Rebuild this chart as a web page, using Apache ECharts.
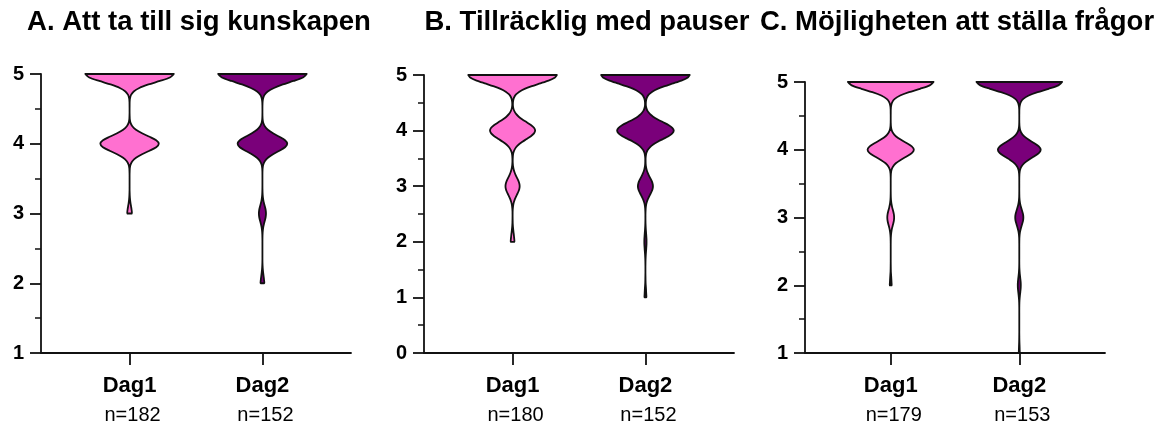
<!DOCTYPE html>
<html>
<head>
<meta charset="utf-8">
<script src="https://cdn.jsdelivr.net/npm/echarts@6/dist/echarts.min.js"></script>
<style>html,body{margin:0;padding:0;background:#fff}#c{width:1163px;height:427px}</style>
</head>
<body>
<div id="c"></div>
<script>
// ---------------- data ----------------
const titles = ['A. Att ta till sig kunskapen', 'B. Tillräcklig med pauser', 'C. Möjligheten att ställa frågor'];
const categories = ['Dag1', 'Dag2'];
const nA = [182, 152];
const nB = [180, 152];
const nC = [179, 153];
const yRangeA = [1, 5];
const yRangeB = [0, 5];
const yRangeC = [1, 5];
// density step along the y (score) axis
const Y_STEP = 0.05;
// lowest observed score per violin (density arrays start here and go up to 5)
const startA = [3, 2];
const startB = [2, 1];
const startC = [2, 1];
// relative violin half-widths (1 = widest), from start score to 5 in steps of 0.05
const densA1 = [.05,.046,.034,.021,.011,.005,.002,0,0,0,
  0,0,.002,.006,.022,.062,.145,.282,.452,.601,
  .66,.601,.452,.282,.145,.062,.022,.006,.002,0,
  0,.001,.002,.01,.033,.094,.22,.427,.685,.91,1];
const densA2 = [.04,.036,.027,.017,.009,.004,.001,0,0,0,
  0,0,0,.001,.003,.008,.018,.034,.055,.073,
  .08,.073,.055,.034,.018,.008,.003,.001,0,0,
  0,0,.001,.005,.018,.053,.123,.239,.384,.51,
  .56,.51,.384,.239,.123,.053,.018,.005,.001,0,
  0,.001,.004,.015,.045,.12,.26,.46,.7,.915,1];
const densB1 = [.04,.038,.032,.025,.017,.011,.006,.003,.002,.001,
  .001,.002,.006,.013,.025,.044,.07,.1,.13,.152,
  .16,.152,.13,.1,.07,.044,.025,.013,.006,.003,
  .004,.008,.018,.04,.079,.139,.222,.319,.414,.484,
  .51,.484,.414,.319,.222,.139,.079,.04,.018,.008,
  .008,.016,.036,.078,.154,.272,.435,.626,.812,.949,1];
const densB2 = [.02,.019,.016,.013,.009,.005,.003,.002,.001,0,
  0,0,.001,.002,.004,.007,.011,.016,.02,.024,
  .025,.024,.02,.016,.011,.007,.004,.002,.001,.001,
  .001,.003,.006,.013,.026,.046,.074,.106,.138,.161,
  .17,.161,.138,.106,.074,.046,.026,.013,.006,.004,
  .004,.01,.023,.05,.099,.174,.278,.401,.52,.607,
  .64,.607,.52,.401,.278,.174,.099,.05,.023,.01,
  .009,.016,.036,.078,.154,.272,.435,.626,.812,.949,1];
const densC1 = [.02,.018,.014,.009,.004,.002,.001,0,0,0,
  0,0,0,.001,.003,.008,.018,.034,.055,.073,
  .08,.073,.055,.034,.018,.008,.003,.001,0,0,
  0,0,.001,.005,.018,.051,.119,.231,.37,.491,
  .54,.491,.37,.231,.119,.051,.018,.005,.001,0,
  0,.001,.002,.01,.033,.094,.22,.427,.685,.91,1];
const densC2 = [.01,.009,.007,.004,.002,.001,0,0,0,0,
  0,0,0,0,.001,.003,.008,.015,.024,.032,
  .035,.032,.024,.015,.008,.003,.001,0,0,0,
  0,0,0,.001,.003,.009,.021,.041,.065,.087,
  .095,.087,.065,.041,.021,.009,.003,.001,0,0,
  0,0,.001,.005,.017,.047,.11,.214,.343,.455,
  .5,.455,.343,.214,.11,.047,.017,.005,.001,0,
  0,.001,.002,.01,.033,.094,.22,.427,.685,.91,1];

// ---------------- layout / style ----------------
const FONT = '"Liberation Sans", Arial, Helvetica, sans-serif';
const COLORS = ['#ff70d0', '#7a007a'];
const SLOT = [1, 2.5];      // x positions of the two groups on a 0..3.5 axis
const HALF = 0.5;           // max half-width of a violin in x units
const AXIS_COLOR = '#111';

const panels = [
  {title: titles[0], n: nA, yr: yRangeA, start: startA, dens: [densA1, densA2],
   grid: {left: 41, top: 74, width: 310, height: 279}, tx: 194},
  {title: titles[1], n: nB, yr: yRangeB, start: startB, dens: [densB1, densB2],
   grid: {left: 424, top: 75, width: 310, height: 278}, tx: 582},
  {title: titles[2], n: nC, yr: yRangeC, start: startC, dens: [densC1, densC2],
   grid: {left: 805, top: 82, width: 300, height: 271}, tx: 952}
];

const option = {
  animation: false,
  backgroundColor: '#fff',
  title: panels.map(p => ({
    text: p.title, left: p.tx, top: 3, textAlign: 'center',
    textStyle: {fontFamily: FONT, fontSize: 27.5, fontWeight: 'bold', color: '#000'}
  })),
  grid: panels.map(p => p.grid),
  xAxis: panels.map((p, i) => ({
    type: 'value', gridIndex: i, min: 0, max: 3.5,
    splitLine: {show: false},
    axisLine: {show: true, onZero: false, lineStyle: {color: AXIS_COLOR, width: 1.8}},
    axisTick: {show: true, customValues: SLOT, length: 12, lineStyle: {color: AXIS_COLOR, width: 1.8}},
    axisLabel: {
      customValues: SLOT, margin: 19,
      formatter: v => {
        const k = SLOT.indexOf(v);
        return '{b|' + categories[k] + '}\n{n|n=' + p.n[k] + '}';
      },
      rich: {
        b: {fontFamily: FONT, fontSize: 22, fontWeight: 'bold', color: '#000', lineHeight: 28},
        n: {fontFamily: FONT, fontSize: 20, color: '#000', lineHeight: 30, padding: [0, 0, 0, 6]}
      }
    }
  })),
  yAxis: panels.map((p, i) => ({
    type: 'value', gridIndex: i, min: p.yr[0], max: p.yr[1], interval: 1,
    splitLine: {show: false},
    axisLine: {show: true, onZero: false, lineStyle: {color: AXIS_COLOR, width: 1.8}},
    axisTick: {show: true, length: 11, lineStyle: {color: AXIS_COLOR, width: 1.8}},
    minorTick: {show: true, splitNumber: 2, length: 6, lineStyle: {color: AXIS_COLOR, width: 1.5}},
    axisLabel: {fontFamily: FONT, fontSize: 20, fontWeight: 'bold', color: '#000', margin: 17}
  })),
  series: []
};

panels.forEach((p, gi) => {
  [0, 1].forEach(k => {
    const dens = p.dens[k];
    const y0 = p.start[k];
    const slot = SLOT[k];
    option.series.push({
      type: 'custom',
      xAxisIndex: gi, yAxisIndex: gi,
      clip: false,
      data: dens.map((w, j) => [slot, y0 + j * Y_STEP, w]),
      encode: {x: 0, y: 1},
      renderItem: (params, api) => {
        if (params.dataIndex !== 0) return null;
        const right = [], left = [];
        for (let j = 0; j < dens.length; j++) {
          const y = +(y0 + j * Y_STEP).toFixed(4);
          const w = dens[j] * HALF;
          right.push(api.coord([slot + w, y]));
          left.push(api.coord([slot - w, y]));
        }
        const pts = right.concat(left.reverse());
        let mnx = Infinity, mny = Infinity, mxx = -Infinity, mxy = -Infinity;
        pts.forEach(q => {
          mnx = Math.min(mnx, q[0]); mny = Math.min(mny, q[1]);
          mxx = Math.max(mxx, q[0]); mxy = Math.max(mxy, q[1]);
        });
        return {
          type: 'polygon',
          shape: {points: pts, smooth: 0.25, smoothConstraint: [[mnx, mny], [mxx, mxy]]},
          style: {fill: COLORS[k], stroke: '#111', lineWidth: 1.8, lineJoin: 'round'}
        };
      }
    });
  });
});

const chart = echarts.init(document.getElementById('c'), null, {renderer: 'canvas'});
chart.setOption(option);
</script>
</body>
</html>
